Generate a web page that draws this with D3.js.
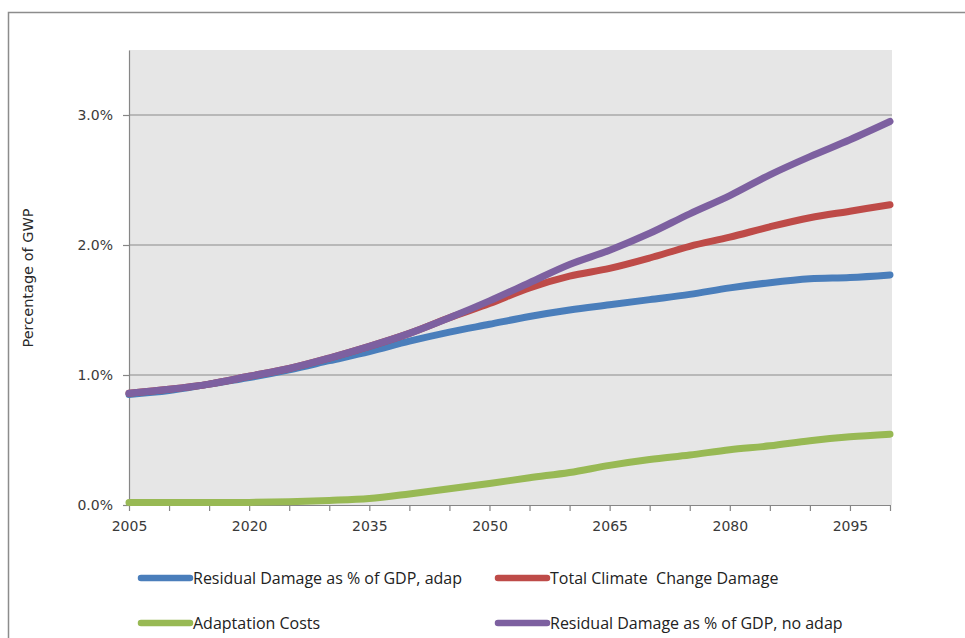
<!DOCTYPE html>
<html>
<head>
<meta charset="utf-8">
<script src="https://cdn.jsdelivr.net/npm/d3@7"></script>
<style>
  html, body { margin: 0; padding: 0; background: #ffffff; }
  svg { display: block; }
  .tick-label { font-family: "DejaVu Sans", sans-serif; font-size: 14px; fill: #3a3a3a; }
  .axis-title { font-family: "DejaVu Sans", sans-serif; font-size: 14.5px; fill: #2a2a2a; }
  .legend-text { font-family: "Open Sans", sans-serif; font-size: 16px; fill: #222; white-space: pre; }
</style>
</head>
<body>
<svg id="chart" width="965" height="638"></svg>
<script>
// Years on the category axis (every 5 years)
const years = [2005, 2010, 2015, 2020, 2025, 2030, 2035, 2040, 2045, 2050,
               2055, 2060, 2065, 2070, 2075, 2080, 2085, 2090, 2095, 2100];
// Years that carry a tick label
const yearLabels = [2005, 2020, 2035, 2050, 2065, 2080, 2095];
// Percent-of-GWP tick values
const yTicks = [0, 1, 2, 3];

// Series values, % of GWP
const residualAdap = [0.85, 0.88, 0.93, 0.98, 1.04, 1.11, 1.18, 1.26, 1.33, 1.39,
                      1.45, 1.50, 1.54, 1.58, 1.62, 1.67, 1.71, 1.74, 1.75, 1.77];
const totalDamage = [0.86, 0.89, 0.93, 0.99, 1.05, 1.13, 1.22, 1.32, 1.44, 1.55,
                     1.67, 1.76, 1.82, 1.90, 1.99, 2.06, 2.14, 2.21, 2.26, 2.31];
const adaptationCosts = [0.02, 0.02, 0.02, 0.02, 0.025, 0.035, 0.05, 0.085, 0.125, 0.165,
                         0.21, 0.25, 0.305, 0.35, 0.385, 0.425, 0.455, 0.495, 0.525, 0.545];
const residualNoAdap = [0.86, 0.89, 0.93, 0.99, 1.05, 1.13, 1.22, 1.32, 1.44, 1.57,
                        1.71, 1.85, 1.96, 2.09, 2.24, 2.38, 2.54, 2.68, 2.81, 2.95];

const seriesNames = ["Residual Damage as % of GDP, adap", "Total Climate  Change Damage",
                     "Adaptation Costs", "Residual Damage as % of GDP, no adap"];
const seriesColors = ["#4a7ebb", "#be4b48", "#98b954", "#7d60a0"];
const seriesValues = [residualAdap, totalDamage, adaptationCosts, residualNoAdap];

const svg = d3.select("#chart");

// Outer chart frame
svg.append("rect")
  .attr("x", 8.5).attr("y", 12.5)
  .attr("width", 1000).attr("height", 1000)
  .attr("fill", "none").attr("stroke", "#8c8c8c").attr("stroke-width", 1.5);

const plot = { left: 129, right: 890, top: 50, bottom: 505 };
const x = d3.scaleLinear().domain([2005, 2100]).range([plot.left, plot.right]);
const y = d3.scaleLinear().domain([0, 3.5]).range([plot.bottom, plot.top]);

// Plot background
svg.append("rect")
  .attr("x", plot.left).attr("y", plot.top)
  .attr("width", plot.right + 2 - plot.left).attr("height", plot.bottom - plot.top)
  .attr("fill", "#e6e6e6");

// Horizontal gridlines
svg.append("g")
  .selectAll("line")
  .data(yTicks.filter(d => d > 0))
  .join("line")
  .attr("x1", plot.left).attr("x2", plot.right + 2)
  .attr("y1", d => y(d)).attr("y2", d => y(d))
  .attr("stroke", "#8a8a8a").attr("stroke-width", 1.2);

// Y axis
const yAxis = d3.axisLeft(y)
  .tickValues(yTicks)
  .tickFormat(d => d3.format(".1f")(d) + "%")
  .tickSize(6)
  .tickSizeOuter(0)
  .tickPadding(10);
const gy = svg.append("g")
  .attr("transform", `translate(${plot.left},0)`)
  .call(yAxis);
gy.select(".domain").attr("stroke", "#868686").attr("stroke-width", 1.2);
gy.selectAll(".tick line").attr("stroke", "#868686").attr("stroke-width", 1.2);
gy.selectAll(".tick text").attr("class", "tick-label").attr("font-family", null).attr("font-size", null);

// X axis: a tick on every year, labels on every third
const xAxis = d3.axisBottom(x)
  .tickValues(years)
  .tickFormat(d => yearLabels.includes(d) ? String(d) : "")
  .tickSize(6)
  .tickSizeOuter(0)
  .tickPadding(10);
const gx = svg.append("g")
  .attr("transform", `translate(0,${plot.bottom})`)
  .call(xAxis);
gx.select(".domain").attr("stroke", "#868686").attr("stroke-width", 1.2);
gx.selectAll(".tick line").attr("stroke", "#868686").attr("stroke-width", 1.2);
gx.selectAll(".tick text").attr("class", "tick-label").attr("font-family", null).attr("font-size", null);

// Y axis title
svg.append("text")
  .attr("class", "axis-title")
  .attr("transform", "translate(33,278) rotate(-90)")
  .attr("text-anchor", "middle")
  .text("Percentage of GWP");

// Series lines
const line = d3.line()
  .x((d, i) => x(years[i]))
  .y(d => y(d))
  .curve(d3.curveCatmullRom.alpha(0.5));

svg.append("g")
  .selectAll("path")
  .data(seriesValues)
  .join("path")
  .attr("d", d => line(d))
  .attr("fill", "none")
  .attr("stroke", (d, i) => seriesColors[i])
  .attr("stroke-width", 7)
  .attr("stroke-linejoin", "round")
  .attr("stroke-linecap", "round");

// Legend: two columns, two rows
const legendPos = [
  { x: 141, y: 578 }, { x: 498, y: 578 },
  { x: 141, y: 623 }, { x: 498, y: 623 }
];
const legend = svg.append("g")
  .selectAll("g")
  .data(seriesNames)
  .join("g")
  .attr("transform", (d, i) => `translate(${legendPos[i].x},${legendPos[i].y})`);
legend.append("line")
  .attr("x1", 0).attr("x2", 49).attr("y1", 0).attr("y2", 0)
  .attr("stroke", (d, i) => seriesColors[i])
  .attr("stroke-width", 6.5)
  .attr("stroke-linecap", "round");
legend.append("text")
  .attr("class", "legend-text")
  .attr("x", 52).attr("y", 5.5)
  .text(d => d);
</script>
</body>
</html>
